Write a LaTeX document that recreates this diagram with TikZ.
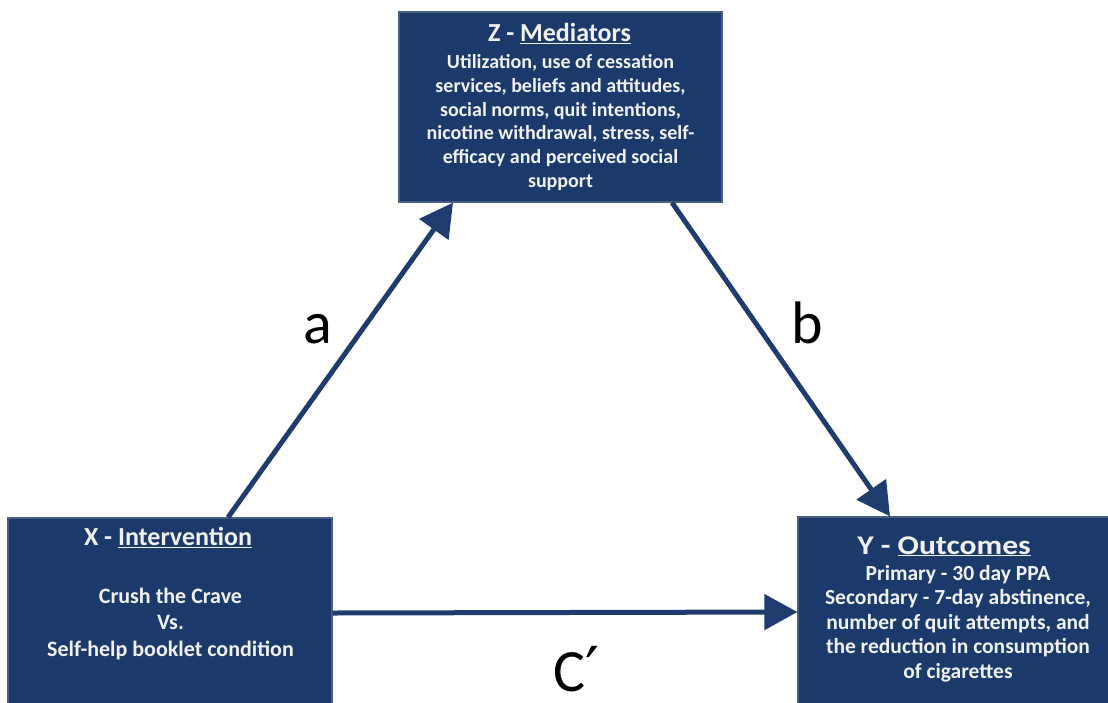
\documentclass[tikz,border=0pt]{standalone}
\usepackage{fontspec}
\setmainfont{Carlito}
\newfontfamily\djv{DejaVu Sans}
\usetikzlibrary{arrows.meta}
\definecolor{boxblue}{RGB}{28,57,107}
\definecolor{boxedge}{RGB}{70,95,130}
\definecolor{arrowblue}{RGB}{31,60,110}
\definecolor{boxtext}{RGB}{242,242,242}
\tikzset{
  panel/.style={draw=boxedge, line width=1.2pt, fill=boxblue, inner sep=0pt},
  titletext/.style={text=boxtext, font=\fontsize{26}{30}\selectfont\bfseries, inner sep=0pt, anchor=base},
  bodytext/.style={text=boxtext, align=center, inner sep=0pt},
  arr/.style={draw=arrowblue, line width=5pt, -{Triangle[length=33pt,width=35pt]}},
  pathlabel/.style={font=\fontsize{60}{60}\selectfont, text=black, inner sep=0pt, anchor=base}
}
\begin{document}
\begin{tikzpicture}[x=1pt,y=-1pt]
\useasboundingbox (0,0) rectangle (1108,702);
% boxes
\node[panel, minimum width=323pt, minimum height=190pt] (zbox) at (560.5,107) {};
\node[panel, minimum width=324pt, minimum height=190pt] (xbox) at (170,613) {};
\node[panel, minimum width=312pt, minimum height=190pt] (ybox) at (954,612) {};
% Z text
\node[titletext] (ztitle) at (559.5,41.5) {Z - \underline{Mediators}};
\node[bodytext, font=\fontsize{20}{23.8}\selectfont\bfseries] (zbody) at (560.5,122.5)
  {Utilization, use of cessation\\services, beliefs and attitudes,\\social norms, quit intentions,\\nicotine withdrawal, stress, self-\\efficacy and perceived social\\support};
% X text
\node[titletext] (xtitle) at (168,545.5) {X - \underline{Intervention}};
\node[bodytext, font=\fontsize{22}{26}\selectfont\bfseries] (xbody) at (170.5,624)
  {Crush the Crave\\Vs.\\Self-help booklet condition};
% Y text
\node[titletext, font=\fontsize{27}{30}\selectfont\bfseries, xscale=1.17, transform shape] (ytitle) at (944,554) {Y - \underline{Outcomes}};
\node[bodytext, font=\fontsize{21.5}{24.4}\selectfont\bfseries] (ybody) at (958,623.5)
  {Primary - 30 day PPA\\Secondary - 7-day abstinence,\\number of quit attempts, and\\the reduction in consumption\\of cigarettes};
% arrows
\draw[arr] ([xshift=58pt]xbox.north) -- ([xshift=-107.5pt]zbox.south);
\draw[arr] ([xshift=111.5pt]zbox.south) -- ([xshift=-64pt]ybox.north);
\draw[arr] (xbox.east) -- (ybox.west);
% labels
\node[pathlabel] (la) at (318,343) {a};
\node[pathlabel] (lb) at (807.5,343) {b};
\node[pathlabel] (lc) at (577,691) {C{\djv\fontsize{62}{62}\selectfont ′}};
\end{tikzpicture}
\end{document}
